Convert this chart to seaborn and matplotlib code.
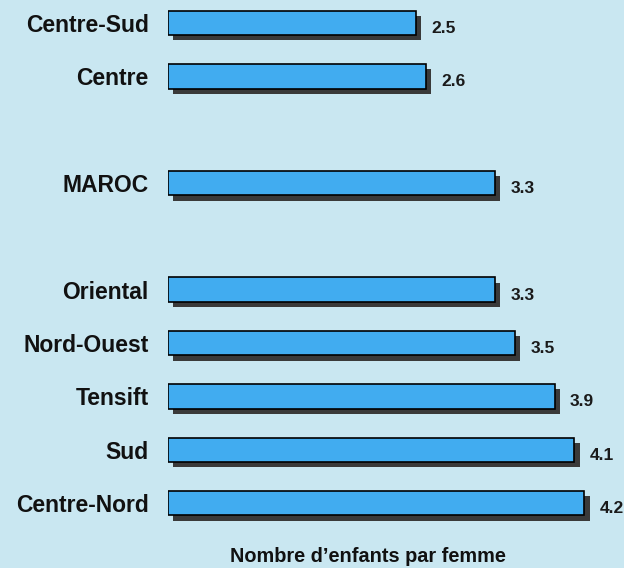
import matplotlib
matplotlib.use("Agg")
import matplotlib.pyplot as plt
import matplotlib.patheffects as pe
import seaborn as sns

# fertility by region (enfants par femme)
regions = ['Centre-Sud', 'Centre', 'MAROC', 'Oriental', 'Nord-Ouest',
           'Tensift', 'Sud', 'Centre-Nord']
valeurs = [2.5, 2.6, 3.3, 3.3, 3.5, 3.9, 4.1, 4.2]
rangs = [0, 1, 3, 5, 6, 7, 8, 9]  # row slots, gaps around MAROC
valeur_labels = ['2.5', '2.6', '3.3', '3.3', '3.5', '3.9', '4.1', '4.2']

fond = '#c9e7f1'
bleu = '#41acf0'

sns.set_style('white')
plt.rcParams['font.family'] = ['Liberation Sans', 'DejaVu Sans']

fig = plt.figure(figsize=(6.24, 5.68), dpi=100, facecolor=fond)
ax = fig.add_axes([168 / 624, 1 - 525 / 568, (624 - 168) / 624, 525 / 568])
ax.set_facecolor(fond)

sns.barplot(x=valeurs, y=rangs, orient='y', native_scale=True, width=0.46,
            color=bleu, saturation=1, edgecolor='black', linewidth=1.2, ax=ax)

for p in ax.patches:
    p.set_path_effects([pe.SimplePatchShadow(offset=(3.8, -3.8),
                                             shadow_rgbFace='#3a3a3a', alpha=1),
                        pe.Normal()])

for v, r, t in zip(valeurs, rangs, valeur_labels):
    ax.annotate(t, xy=(v, r), xytext=(11, -4), textcoords='offset points',
                ha='left', va='center', fontsize=12.5, fontweight='bold',
                color='#1a1a1a')

ax.set_xlim(0, 4.6)
ax.set_ylim(9.41, -0.43)
ax.set_yticks(rangs)
ax.set_yticklabels(regions, fontsize=16.5, fontweight='bold', color='#111111')
ax.tick_params(axis='y', length=0, pad=14)
ax.set_xticks([])
ax.set_xlabel('')
ax.set_ylabel('')
sns.despine(ax=ax, left=True, bottom=True)

fig.text(368 / 624, 1 - 556 / 568, 'Nombre d\u2019enfants par femme',
         ha='center', va='center', fontsize=14.3, fontweight='bold',
         color='#111111')

fig.savefig('out.png', dpi=100, facecolor=fond)
